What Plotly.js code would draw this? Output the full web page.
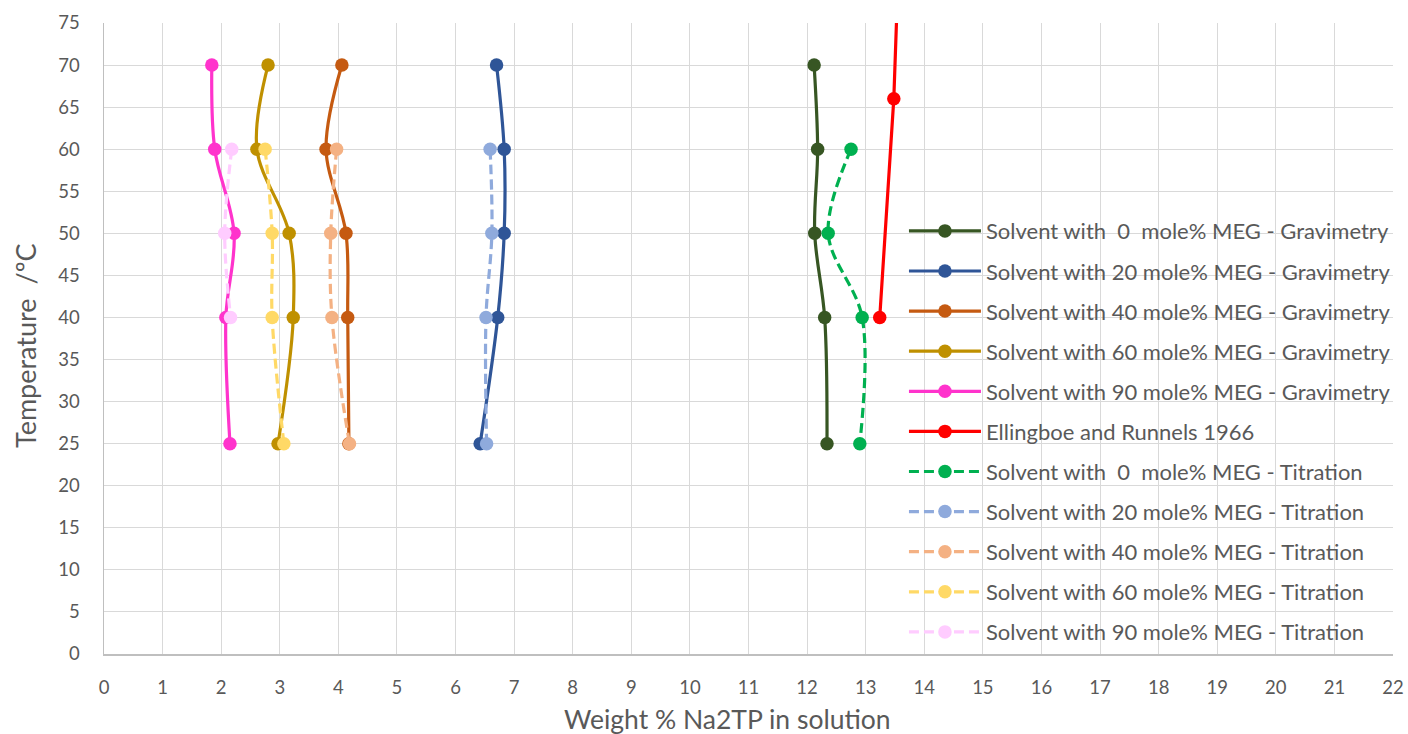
<!DOCTYPE html>
<html>
<head>
<meta charset="utf-8">
<script src="https://cdn.plot.ly/plotly-3.0.1.min.js"></script>
<style>html,body{margin:0;padding:0;background:#fff;}#chart{width:1408px;height:734px;}</style>
</head>
<body>
<div id="chart"></div>
<script>
var temps = [70, 60, 50, 40, 25];
var tempsTit = [60, 50, 40, 25];
var tempsTit90 = [60, 50, 40];

var grav0 = [12.12, 12.18, 12.13, 12.30, 12.34];
var grav20 = [6.70, 6.83, 6.83, 6.72, 6.42];
var grav40 = [4.06, 3.79, 4.13, 4.16, 4.18];
var grav60 = [2.80, 2.61, 3.16, 3.23, 2.97];
var grav90 = [1.84, 1.89, 2.22, 2.08, 2.15];

var ellX = [13.24, 13.48, 13.60];
var ellT = [40, 66, 90];

var tit0 = [12.75, 12.36, 12.94, 12.90];
var tit20 = [6.59, 6.62, 6.52, 6.53];
var tit40 = [3.97, 3.87, 3.89, 4.19];
var tit60 = [2.75, 2.87, 2.87, 3.07];
var tit90 = [2.18, 2.06, 2.16];

var names = [
  "Solvent with\u00a0\u00a00\u00a0\u00a0mole% MEG - Gravimetry",
  "Solvent with 20 mole% MEG - Gravimetry",
  "Solvent with 40 mole% MEG - Gravimetry",
  "Solvent with 60 mole% MEG - Gravimetry",
  "Solvent with 90 mole% MEG - Gravimetry",
  "Ellingboe and Runnels 1966",
  "Solvent with\u00a0\u00a00\u00a0\u00a0mole% MEG - Titration",
  "Solvent with 20 mole% MEG - Titration",
  "Solvent with 40 mole% MEG - Titration",
  "Solvent with 60 mole% MEG - Titration",
  "Solvent with 90 mole% MEG - Titration"
];

var xTitle = 'Weight % Na2TP in solution';
var yTitle = 'Temperature\u00a0\u00a0/ºC';

var xTickVals = [];
for (var i = 0; i <= 22; i++) xTickVals.push(i);

function tr(x, y, name, color, dash, shape, g) {
  return {
    x: x, y: y, name: name, type: 'scatter', mode: 'lines+markers',
    line: {color: color, width: 3.2, dash: dash, shape: shape, smoothing: 1},
    marker: {color: color, size: 13.5, symbol: 'circle'},
    legendgroup: 'g' + g,
    cliponaxis: true
  };
}

var DASH = '10px,5px';
var data = [
  tr(grav0, temps, names[0], '#375623', 'solid', 'spline', 0),
  tr(grav20, temps, names[1], '#2f5597', 'solid', 'spline', 1),
  tr(grav40, temps, names[2], '#c55a11', 'solid', 'spline', 2),
  tr(grav60, temps, names[3], '#bf9000', 'solid', 'spline', 3),
  tr(grav90, temps, names[4], '#ff33cc', 'solid', 'spline', 4),
  tr(ellX, ellT, names[5], '#ff0000', 'solid', 'linear', 5),
  tr(tit0, tempsTit, names[6], '#00b050', DASH, 'spline', 6),
  tr(tit20, tempsTit, names[7], '#8faadc', DASH, 'spline', 7),
  tr(tit40, tempsTit, names[8], '#f4b183', DASH, 'spline', 8),
  tr(tit60, tempsTit, names[9], '#ffd966', DASH, 'spline', 9),
  tr(tit90, tempsTit90, names[10], '#ffccff', DASH, 'spline', 10)
];

var fontFam = 'Lato, "Open Sans", sans-serif';
var layout = {
  width: 1408, height: 734,
  margin: {l: 104, r: 15, t: 23, b: 80},
  paper_bgcolor: '#fff', plot_bgcolor: '#fff',
  font: {family: fontFam, color: '#595959', size: 18},
  showlegend: true,
  legend: {
    x: 0.6206, y: 0.7035, xanchor: 'left', yanchor: 'top',
    bgcolor: 'rgba(0,0,0,0)', borderwidth: 0,
    font: {family: fontFam, size: 22, color: '#595959'},
    traceorder: 'grouped', tracegroupgap: 8.5, itemwidth: 72
  },
  xaxis: {
    range: [0, 22], tickvals: xTickVals, ticktext: xTickVals.map(String),
    showgrid: true, gridcolor: '#d9d9d9', gridwidth: 1,
    showline: true, linecolor: '#bfbfbf', linewidth: 1.5,
    zeroline: false, ticks: '', ticklabelstandoff: 16,
    tickfont: {size: 18.5, color: '#595959', family: fontFam}
  },
  yaxis: {
    range: [0, 75], dtick: 5, tick0: 0,
    showgrid: true, gridcolor: '#d9d9d9', gridwidth: 1,
    showline: true, linecolor: '#bfbfbf', linewidth: 1.5,
    zeroline: false, ticks: '', ticklabelstandoff: 19,
    tickfont: {size: 18.5, color: '#595959', family: fontFam}
  },
  annotations: [
    {text: xTitle, xref: 'paper', yref: 'paper', x: (727 - 104) / 1289, y: (654 - 719) / 631,
     xanchor: 'center', yanchor: 'middle', showarrow: false,
     font: {size: 26.5, color: '#595959', family: fontFam}},
    {text: yTitle, xref: 'paper', yref: 'paper', x: (25 - 104) / 1289, y: (654 - 346) / 631,
     xanchor: 'center', yanchor: 'middle', showarrow: false, textangle: -90,
     font: {size: 27, color: '#595959', family: fontFam}}
  ]
};

Plotly.newPlot('chart', data, layout, {displayModeBar: false, staticPlot: true});
</script>
</body>
</html>
